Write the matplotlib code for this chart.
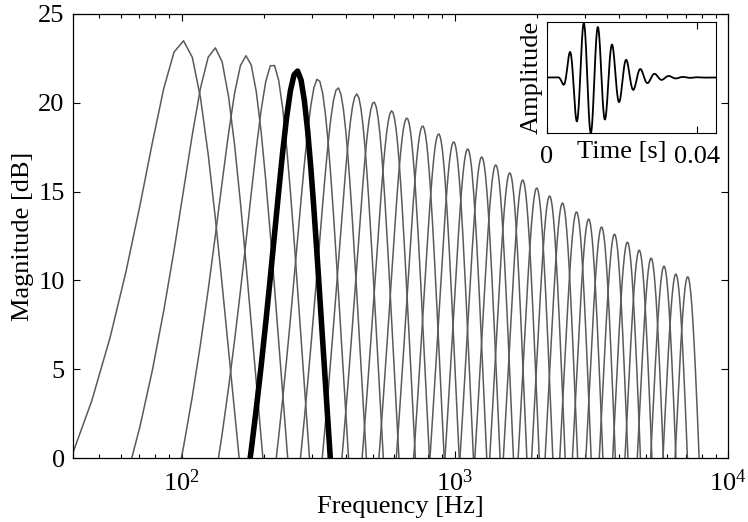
import numpy as np
import matplotlib
matplotlib.use("Agg")
import matplotlib.pyplot as plt

# filterbank: centre frequency [Hz] and peak gain [dB]
center_freqs = [100.8, 132, 172, 215, 264, 315, 373, 437, 505, 587, 667, 762,
                872, 990, 1114, 1254, 1411, 1588, 1771, 1994, 2222, 2477, 2788,
                3088, 3443, 3840, 4281, 4730, 5227, 5828, 6440, 7117]
peak_db = [23.5, 23.1, 22.65, 22.2, 21.8, 21.35, 20.85, 20.5, 20.05, 19.55,
           19.15, 18.7, 18.25, 17.8, 17.4, 16.95, 16.5, 16.05, 15.65, 15.2,
           14.75, 14.35, 13.85, 13.45, 13.0, 12.6, 12.15, 11.7, 11.25, 10.8,
           10.35, 10.2]
highlight = 4          # filter drawn in black, its impulse response in the inset
fs = 16000             # sample rate of the filterbank
n_fft = 2048
ir_delay = 0.0022      # onset of the impulse response [s]
order = 4

y_ticks = [0, 5, 10, 15, 20, 25]
inset_ticks = [0, 0.04]
inset_ticklabels = ["0", "0.04"]

plt.rcParams["font.family"] = ["Liberation Serif", "DejaVu Serif"]
plt.rcParams["mathtext.fontset"] = "custom"
plt.rcParams["mathtext.rm"] = "Liberation Serif"
plt.rcParams["font.size"] = 19


def erb_bandwidth(fc):
    return 1.019 * (24.7 + 0.108 * fc)


def gammatone_db(freqs, fc, gain):
    b = erb_bandwidth(fc)
    return gain - 10 * order * np.log10(1 + ((freqs - fc) / b) ** 2)


freqs = np.arange(1, n_fft // 2 + 1) * fs / n_fft

fig = plt.figure(figsize=(7.48, 5.22), dpi=100)
ax = fig.add_axes([0.0976, 0.1226, 0.8757, 0.8506])

for i, (fc, g) in enumerate(zip(center_freqs, peak_db)):
    if i == highlight:
        continue
    ax.plot(freqs, gammatone_db(freqs, fc, g), color="#5a5a5a", lw=1.1)
ax.plot(freqs, gammatone_db(freqs, center_freqs[highlight], peak_db[highlight]),
        color="black", lw=4.0, zorder=5)

ax.set_xscale("log")
ax.set_xlim(40, 1e4)
ax.set_ylim(0, 25)
ax.set_yticks(y_ticks)
ax.set_xlabel("Frequency [Hz]", labelpad=0)
ax.set_ylabel("Magnitude [dB]", labelpad=3)
ax.tick_params(which="both", direction="in", top=True, right=True, width=0.8)
ax.tick_params(which="major", length=5, pad=8)
ax.tick_params(axis="y", which="major", pad=6)
ax.tick_params(which="minor", length=3)
for s in ax.spines.values():
    s.set_linewidth(0.9)

# inset: impulse response of the highlighted filter
fc = center_freqs[highlight]
t = np.arange(0, 0.045, 1 / fs)
tau = np.clip(t - ir_delay, 0, None)
wave = tau ** (order - 1) * np.exp(-2 * np.pi * erb_bandwidth(fc) * tau) \
    * np.cos(2 * np.pi * fc * tau)
wave = wave / np.abs(wave).max()

axi = fig.add_axes([0.7313, 0.7452, 0.2259, 0.2127])
axi.plot(t, wave, color="black", lw=1.3)
axi.set_xlim(0, 0.045)
axi.set_ylim(-1.0, 1.0)
axi.set_xticks(inset_ticks)
axi.set_xticklabels(inset_ticklabels)
axi.set_yticks([])
axi.tick_params(direction="in", top=True, length=5, pad=9)
axi.set_ylabel("Amplitude", labelpad=3)
axi.set_xlabel("Time [s]")
axi.xaxis.set_label_coords(0.44, -0.07, transform=axi.transAxes)
axi.xaxis.label.set_va("top")

fig.savefig("out.png", dpi=100)
